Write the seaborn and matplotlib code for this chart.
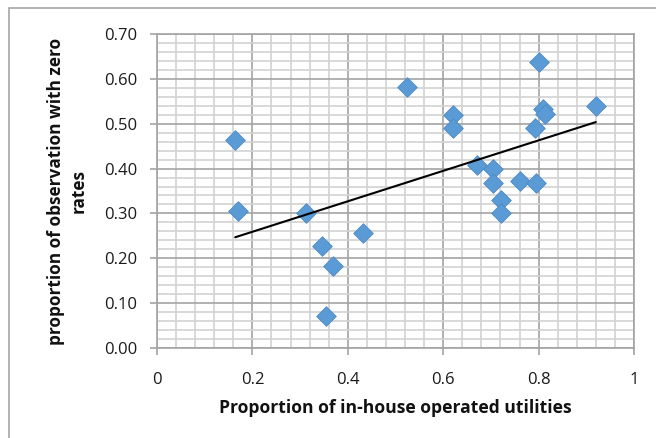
import numpy as np
import pandas as pd
import seaborn as sns
import matplotlib
matplotlib.use("Agg")
import matplotlib.pyplot as plt
from matplotlib.ticker import MultipleLocator, FixedLocator
from matplotlib.patches import Rectangle

# Share of in-house operated utilities vs. share of observations with zero rates
in_house_share = [0.164, 0.170, 0.312, 0.346, 0.369, 0.354, 0.432, 0.524,
                  0.620, 0.620, 0.671, 0.705, 0.705, 0.721, 0.721, 0.761,
                  0.795, 0.793, 0.801, 0.809, 0.813, 0.920]
zero_rate_share = [0.464, 0.305, 0.300, 0.227, 0.183, 0.071, 0.256, 0.582,
                   0.519, 0.490, 0.408, 0.399, 0.368, 0.330, 0.301, 0.372,
                   0.368, 0.490, 0.637, 0.532, 0.522, 0.540]

x_ticks = [0, 0.2, 0.4, 0.6, 0.8, 1]
x_tick_labels = ["0", "0.2", "0.4", "0.6", "0.8", "1"]
y_ticks = [0.0, 0.1, 0.2, 0.3, 0.4, 0.5, 0.6, 0.7]
y_tick_labels = ["0.00", "0.10", "0.20", "0.30", "0.40", "0.50", "0.60", "0.70"]

df = pd.DataFrame({"x": in_house_share, "y": zero_rate_share})

sns.set_theme(style="white")
plt.rcParams["font.family"] = ["Open Sans", "DejaVu Sans"]

fig = plt.figure(figsize=(6.56, 4.38), dpi=100)
ax = fig.add_axes([157 / 656, 1 - 348 / 438, (634 - 157) / 656, (348 - 34) / 438])

# outer chart frame
fig.patches.append(Rectangle((9 / 656, -0.1), 1.2, 1 - 8 / 438 + 0.1,
                             transform=fig.transFigure, fill=False,
                             edgecolor="#a6a6a6", linewidth=1.2, zorder=0))

ax.set_xlim(0, 1)
ax.set_ylim(0, 0.7)
ax.xaxis.set_major_locator(FixedLocator(x_ticks))
ax.yaxis.set_major_locator(FixedLocator(y_ticks))
ax.xaxis.set_minor_locator(MultipleLocator(0.04))
ax.yaxis.set_minor_locator(MultipleLocator(0.02))
ax.set_xticklabels(x_tick_labels)
ax.set_yticklabels(y_tick_labels)

ax.grid(which="minor", color="#d2d2d2", linewidth=1.2, zorder=0)
ax.grid(which="major", color="#a3a3a3", linewidth=1.2, zorder=1)
ax.set_axisbelow(True)
for side in ax.spines.values():
    side.set_color("#a3a3a3")
    side.set_linewidth(1.2)

ax.tick_params(axis="both", which="major", length=5, width=1.2, color="#a3a3a3",
               labelsize=12, labelcolor="#1a1a1a")
ax.tick_params(axis="both", which="minor", length=0)
ax.tick_params(axis="x", bottom=True, pad=12)
ax.tick_params(axis="y", left=True, pad=9)

sns.scatterplot(data=df, x="x", y="y", marker="D", s=100, color="#5b9bd5",
                edgecolor="#4d8ac8", linewidth=0.6, ax=ax, zorder=3)

# linear trend over the observed range
slope, intercept = np.polyfit(df["x"], df["y"], 1)
xs = np.array([df["x"].min(), df["x"].max()])
ax.plot(xs, slope * xs + intercept, color="black", linewidth=1.5, zorder=4)

ax.set_xlabel("Proportion of in-house operated utilities", fontsize=12.6,
              fontweight="bold", labelpad=8, color="#111111")
ax.set_ylabel("proportion of observation with zero\nrates", fontsize=12.4,
              fontweight="bold", labelpad=12, linespacing=1.35, color="#111111")

fig.savefig("out.png", dpi=100, facecolor="white")
